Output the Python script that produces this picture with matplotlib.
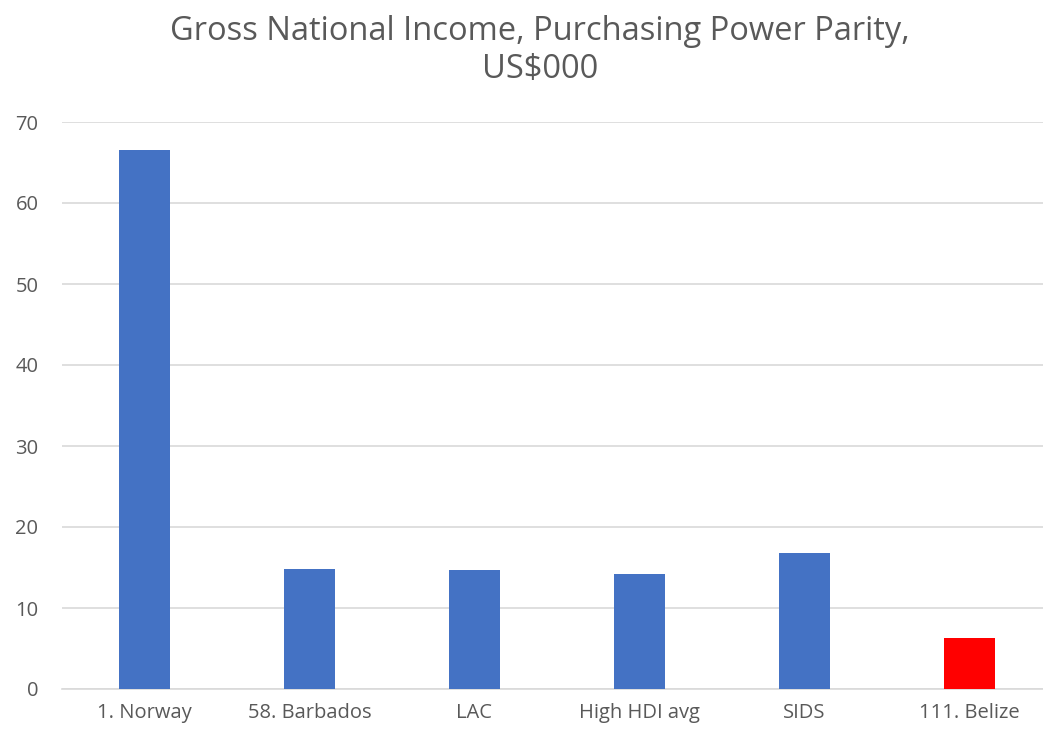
import matplotlib.pyplot as plt

# Gross national income (PPP), thousands of US dollars
categories = ['1. Norway', '58. Barbados', 'LAC', 'High HDI avg', 'SIDS', '111. Belize']
gni_values = [66.5, 14.8, 14.7, 14.2, 16.8, 6.3]
bar_colors = ['#4472c4', '#4472c4', '#4472c4', '#4472c4', '#4472c4', '#ff0000']
y_ticks = [0, 10, 20, 30, 40, 50, 60, 70]

plt.rcParams['font.family'] = ['Open Sans', 'DejaVu Sans']

fig = plt.figure(figsize=(10.43, 7.32), dpi=100)
ax = fig.add_axes([62 / 1043, 43 / 732, 990 / 1043, 567 / 732])

x = range(len(categories))
ax.bar(x, gni_values, width=0.31, color=bar_colors, zorder=3)

ax.set_xlim(-0.5, len(categories) - 0.5)
ax.set_ylim(0, 70)
ax.set_yticks(y_ticks)
ax.set_xticks(list(x))
ax.set_xticklabels(categories)
ax.grid(axis='y', color='#d9d9d9', linewidth=1.2, zorder=0)

for side in ['top', 'right', 'left']:
    ax.spines[side].set_visible(False)
ax.spines['bottom'].set_color('#d9d9d9')
ax.spines['bottom'].set_linewidth(1.2)
ax.tick_params(axis='both', length=0, labelsize=14.5, labelcolor='#595959')
ax.tick_params(axis='y', pad=17)
ax.tick_params(axis='x', pad=10)

fig.text(0.518, 0.98, 'Gross National Income, Purchasing Power Parity,\nUS$000',
         ha='center', va='top', fontsize=23.5, color='#595959', linespacing=1.2)

fig.savefig('out.png', dpi=100)
